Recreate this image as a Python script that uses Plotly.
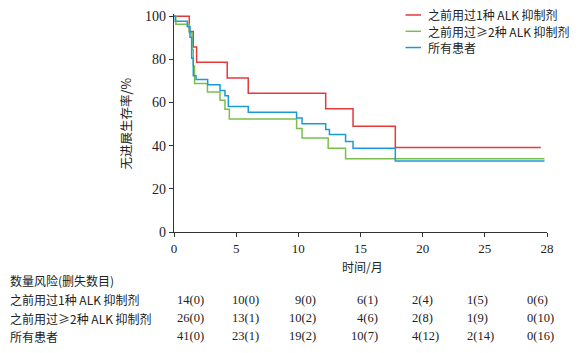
import plotly.graph_objects as go

# ---- data ----
series_names = ["之前用过1种 ALK 抑制剂", "之前用过≥2种 ALK 抑制剂", "所有患者"]

times_red = [0, 1.23, 1.55, 1.82, 4.28, 5.97, 12.2, 14.4, 17.8, 29.5]
surv_red = [100, 92.9, 85.7, 78.6, 71.4, 64.3, 57.1, 49.0, 39.2, 39.2]

times_green = [0, 0.15, 1.23, 1.45, 1.55, 1.65, 2.69, 3.70, 4.10, 4.45, 9.86, 10.3, 12.4, 13.8, 29.8]
surv_green = [100, 96.2, 92.3, 84.6, 76.9, 68.8, 64.9, 61.0, 56.9, 52.3, 47.9, 43.6, 38.8, 33.9, 33.9]

times_blue = [0, 0.1, 1.07, 1.29, 1.42, 1.55, 1.77, 2.71, 3.70, 4.10, 4.37, 5.97, 9.86, 10.3,
              12.2, 12.5, 13.8, 14.4, 17.8, 29.8]
surv_blue = [100, 97.6, 95.1, 90.2, 80.5, 72.4, 70.6, 68.2, 65.6, 63.1, 58.1, 55.5, 52.8, 50.2,
             47.5, 45.2, 41.9, 38.8, 32.9, 32.9]

x_tick_vals = [0, 5, 10, 15, 20, 25, 30]
x_tick_text = ["0", "5", "10", "15", "20", "25", "28"]
y_tick_vals = [0, 20, 40, 60, 80, 100]

risk_header = "数量风险(删失数目)"
risk_labels = ["之前用过1种 ALK 抑制剂", "之前用过≥2种 ALK 抑制剂", "所有患者"]
risk_red = ["14(0)", "10(0)", "9(0)", "6(1)", "2(4)", "1(5)", "0(6)"]
risk_green = ["26(0)", "13(1)", "10(2)", "4(6)", "2(8)", "1(9)", "0(10)"]
risk_blue = ["41(0)", "23(1)", "19(2)", "10(7)", "4(12)", "2(14)", "0(16)"]

colors = ["#E8383A", "#7BBE4C", "#1B9BD5"]

# ---- layout geometry (pixels) ----
W, H = 579, 353
ML, MR, MT, MB = 174, 32, 9, 121
PW, PH = W - ML - MR, H - MT - MB


def px(x):
    return (x - ML) / PW


def py(y):
    return 1 - (y - MT) / PH


FONT = "Liberation Serif, Noto Sans CJK SC, serif"
CJK = "Noto Sans CJK SC, Liberation Serif, sans-serif"
AX = "#333333"
TXT = "#222222"

fig = go.Figure()
for t, s, c in zip([times_red, times_green, times_blue], [surv_red, surv_green, surv_blue], colors):
    fig.add_trace(go.Scatter(x=t, y=s, mode="lines", line=dict(color=c, width=1.5, shape="hv"),
                             showlegend=False, hoverinfo="skip"))

fig.update_layout(
    width=W, height=H,
    margin=dict(l=ML, r=MR, t=MT, b=MB),
    paper_bgcolor="white", plot_bgcolor="white",
    font=dict(family=FONT, size=12, color=TXT),
    xaxis=dict(range=[0, 30], tickvals=x_tick_vals, ticktext=x_tick_text, showgrid=False, zeroline=False,
               showline=True, linecolor=AX, linewidth=1.2, ticks="outside", ticklen=4, tickcolor=AX,
               tickfont=dict(family=FONT, size=13)),
    yaxis=dict(range=[0, 101], tickvals=y_tick_vals, showgrid=False, zeroline=False,
               showline=True, linecolor=AX, linewidth=1.2, ticks="outside", ticklen=4, tickcolor=AX,
               tickfont=dict(family=FONT, size=14)),
)

ann = []
shapes = []
# legend (manual)
leg_y = [10, 26.7, 43.3]
for name, c, yy in zip(series_names, colors, leg_y):
    shapes.append(dict(type="line", xref="paper", yref="paper", x0=px(405.5), x1=px(421),
                       y0=py(yy), y1=py(yy), line=dict(color=c, width=1.5)))
    ann.append(dict(text=name, xref="paper", yref="paper", x=px(426), y=py(yy), xanchor="left",
                    yanchor="middle", showarrow=False, font=dict(family=CJK, size=12, color=TXT)))

# axis titles
ann.append(dict(text="无进展生存率/%", xref="paper", yref="paper", x=px(125), y=py(121), textangle=-90,
                xanchor="center", yanchor="middle", showarrow=False, font=dict(family=CJK, size=12.5, color=TXT)))
ann.append(dict(text="时间/月", xref="paper", yref="paper", x=px(362), y=py(267), xanchor="center",
                yanchor="middle", showarrow=False, font=dict(family=CJK, size=12, color=TXT)))

# risk table
ann.append(dict(text=risk_header, xref="paper", yref="paper", x=px(8), y=py(282), xanchor="left",
                yanchor="middle", showarrow=False, font=dict(family=CJK, size=12, color=TXT)))
row_y = [301.5, 320, 338.5]
col_pos = [(175, "left"), (230, "left"), (318, "right"), (380, "right"), (410, "left"), (465, "left"), (525, "left")]
for lab, row, yy in zip(risk_labels, [risk_red, risk_green, risk_blue], row_y):
    ann.append(dict(text=lab, xref="paper", yref="paper", x=px(8), y=py(yy), xanchor="left",
                    yanchor="middle", showarrow=False, font=dict(family=CJK, size=12, color=TXT)))
    for val, (cx, anc) in zip(row, col_pos):
        ann.append(dict(text=val, xref="paper", yref="paper", x=px(cx), y=py(yy), xanchor=anc,
                        yanchor="middle", showarrow=False, font=dict(family=FONT, size=12.5, color=TXT)))

fig.update_layout(annotations=ann, shapes=shapes)
fig.write_html("out.html")
